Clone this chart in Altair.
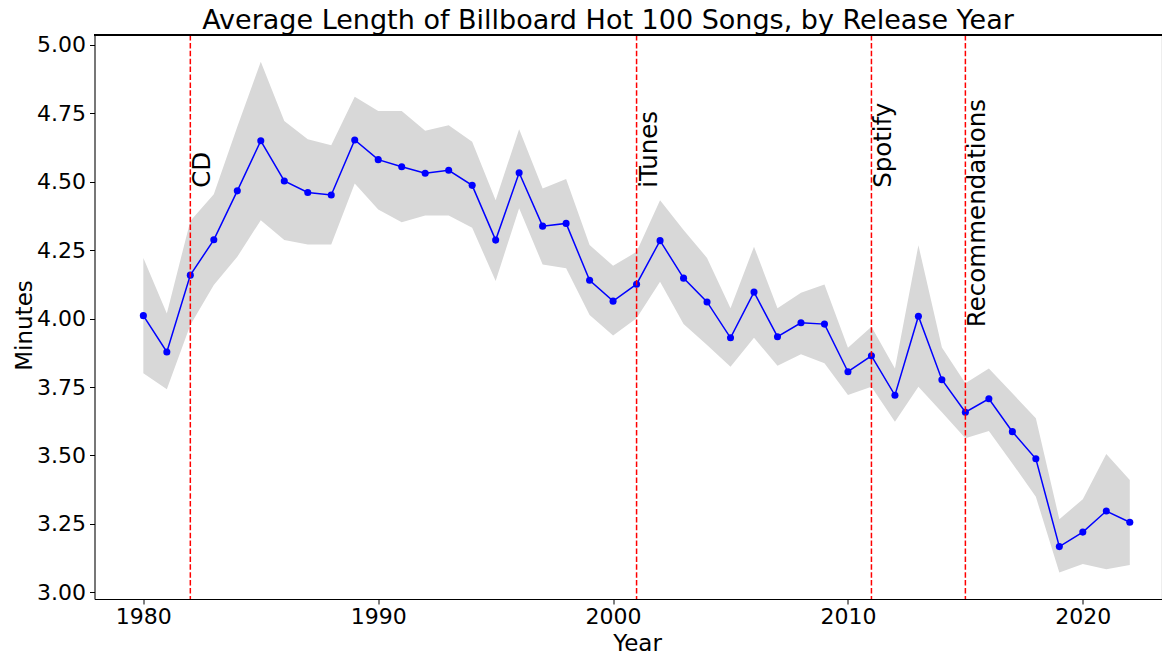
import altair as alt
import pandas as pd

years = list(range(1980, 2023))
mean_minutes = [4.011, 3.878, 4.159, 4.288, 4.467, 4.650, 4.503, 4.461, 4.452, 4.653,
                4.581, 4.555, 4.531, 4.542, 4.487, 4.287, 4.533, 4.338, 4.348, 4.140,
                4.064, 4.126, 4.285, 4.148, 4.061, 3.930, 4.097, 3.934, 3.985, 3.980,
                3.806, 3.864, 3.720, 4.009, 3.777, 3.658, 3.707, 3.587, 3.488, 3.167,
                3.220, 3.297, 3.256]
upper_minutes = [4.222, 4.019, 4.357, 4.455, 4.701, 4.939, 4.722, 4.656, 4.634, 4.811,
                 4.759, 4.759, 4.687, 4.707, 4.646, 4.433, 4.692, 4.476, 4.510, 4.269,
                 4.193, 4.244, 4.433, 4.324, 4.222, 4.038, 4.263, 4.038, 4.095, 4.125,
                 3.894, 3.970, 3.818, 4.268, 3.895, 3.764, 3.818, 3.727, 3.636, 3.267,
                 3.340, 3.505, 3.410]
lower_minutes = [3.800, 3.742, 3.977, 4.123, 4.226, 4.360, 4.287, 4.271, 4.271, 4.494,
                 4.399, 4.352, 4.377, 4.377, 4.332, 4.138, 4.403, 4.198, 4.184, 4.013,
                 3.938, 4.001, 4.135, 3.980, 3.904, 3.824, 3.930, 3.828, 3.870, 3.837,
                 3.721, 3.751, 3.623, 3.751, 3.658, 3.563, 3.589, 3.471, 3.349, 3.072,
                 3.103, 3.084, 3.100]

event_names = ["CD", "iTunes", "Spotify", "Recommendations"]
event_years = [1982, 2001, 2011, 2015]
event_label_y = [4.478, 4.478, 4.478, 3.969]

x_ticks = [1980, 1990, 2000, 2010, 2020]
y_ticks = [3.00, 3.25, 3.50, 3.75, 4.00, 4.25, 4.50, 4.75, 5.00]

title_text = "Average Length of Billboard Hot 100 Songs, by Release Year"

df = pd.DataFrame({"Year": years, "Minutes": mean_minutes,
                   "upper": upper_minutes, "lower": lower_minutes})
ev = pd.DataFrame({"name": event_names, "Year": event_years, "ly": event_label_y})

W, H = 1067, 564
FONT = "DejaVu Sans"

xscale = alt.Scale(domain=[1977.92, 2023.35], nice=False, zero=False)
yscale = alt.Scale(domain=[2.9755, 5.0365], nice=False, zero=False)

xaxis = alt.Axis(values=x_ticks, format="d", title="Year", grid=False,
                 labelFontSize=22, titleFontSize=23, labelFont=FONT, titleFont=FONT,
                 labelColor="black", titleColor="black", titleFontWeight="normal",
                 domainColor="black", tickColor="black", tickSize=5, labelPadding=2,
                 titleX=542.5, titleY=51, titleBaseline="alphabetic", titleAlign="center",
                 titleAnchor="start")
yaxis = alt.Axis(values=y_ticks, format=".2f", title="Minutes", grid=False,
                 labelFontSize=22, titleFontSize=23, labelFont=FONT, titleFont=FONT,
                 labelColor="black", titleColor="black", titleFontWeight="normal",
                 domainColor="black", tickColor="black", tickSize=5, labelPadding=4,
                 titleAngle=270, titleX=-63, titleY=290, titleBaseline="alphabetic",
                 titleAlign="center", titleAnchor="start")

base = alt.Chart(df)

band = base.mark_area(color="#d8d8d8", opacity=1).encode(
    x=alt.X("Year:Q", scale=xscale, axis=xaxis),
    y=alt.Y("lower:Q", scale=yscale, axis=yaxis),
    y2="upper:Q",
)

line = base.mark_line(color="#0000ff", strokeWidth=1.5).encode(
    x=alt.X("Year:Q", scale=xscale),
    y=alt.Y("Minutes:Q", scale=yscale),
)

pts = base.mark_circle(color="#0000ff", size=50, opacity=1).encode(
    x=alt.X("Year:Q", scale=xscale),
    y=alt.Y("Minutes:Q", scale=yscale),
)

vlines = alt.Chart(ev).mark_rule(color="red", strokeWidth=1.5, strokeDash=[5.5, 2.4]).encode(
    x=alt.X("Year:Q", scale=xscale),
)

labels = alt.Chart(ev).mark_text(angle=270, align="left", baseline="top", fontSize=24.5,
                                 font=FONT, color="black", dy=1).encode(
    x=alt.X("Year:Q", scale=xscale),
    y=alt.Y("ly:Q", scale=yscale),
    text="name:N",
)

topline = alt.Chart(df).mark_rule(color="black", strokeWidth=1).encode(
    x=alt.value(0), x2=alt.value(W), y=alt.value(0)
)

title = alt.Chart(pd.DataFrame({"t": [title_text]})).mark_text(
    fontSize=27, font=FONT, color="black", align="center", baseline="alphabetic"
).encode(x=alt.value(513.5), y=alt.value(-6), text="t:N")

chart = alt.layer(band, line, pts, vlines, labels, topline, title).properties(
    width=W, height=H,
    autosize=alt.AutoSizeParams(type="none"),
    padding={"left": 86.5, "top": 27, "right": 0, "bottom": 54},
).configure_view(stroke=None).configure(background="white")

chart.save("out.html", embed_options={"renderer": "svg", "actions": False})
